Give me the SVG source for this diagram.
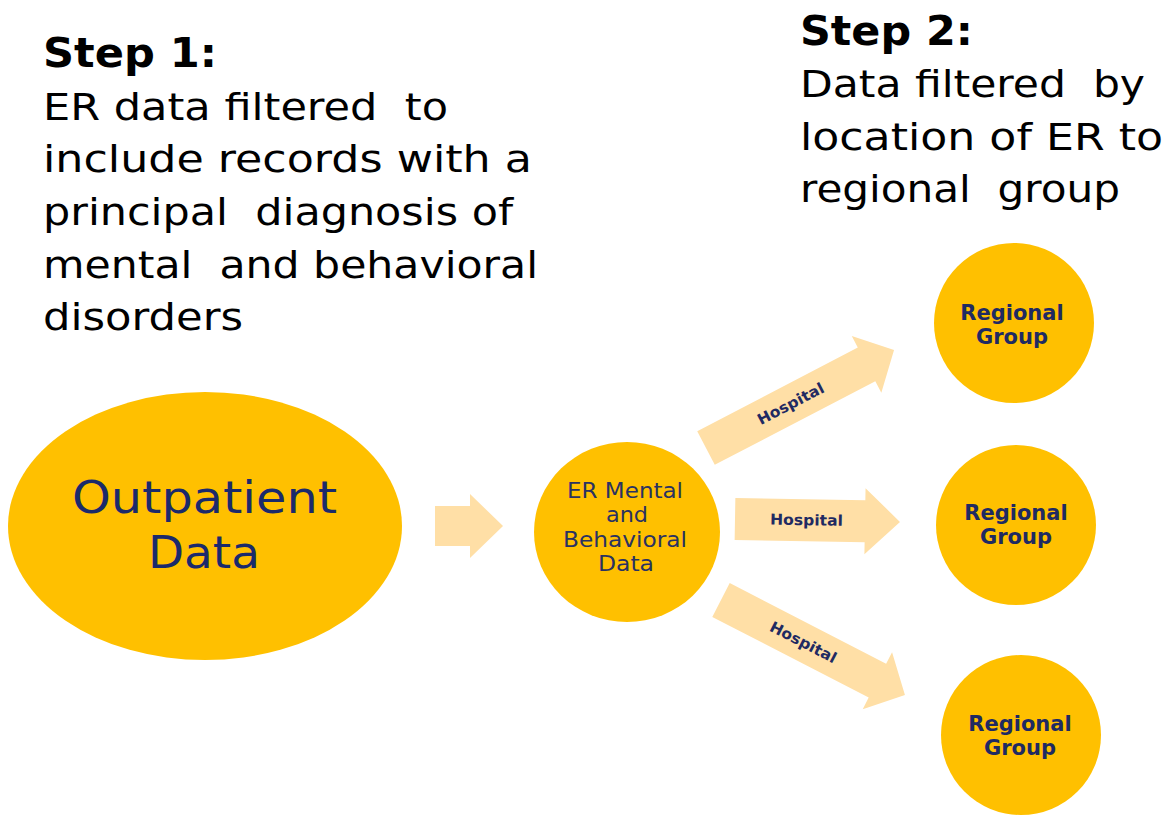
<svg xmlns="http://www.w3.org/2000/svg" width="1175" height="815" viewBox="0 0 1175 815">
<style>
text{white-space:pre}
.node{fill:#FFC000}
.arr{fill:#FFDFA6}
.step{font-family:"DejaVu Sans",Verdana,sans-serif;font-weight:bold;font-size:40px;fill:#000}
.desc{font-family:"DejaVu Sans",Verdana,sans-serif;font-size:38px;fill:#000}
.big{font-family:"DejaVu Sans",Verdana,sans-serif;font-size:45px;fill:#1B2A6B}
.mid{font-family:"DejaVu Sans",Verdana,sans-serif;font-size:21px;fill:#2A3262}
.reg{font-family:"DejaVu Sans",Verdana,sans-serif;font-weight:bold;font-size:21px;fill:#1F2A62;text-anchor:middle}
.hosp{font-family:"DejaVu Sans",Verdana,sans-serif;font-weight:bold;font-size:15px;fill:#1F2A62}
</style>
<rect width="1175" height="815" fill="#fff"/>
<g id="step1-text">
<text class="step" x="43" y="67" textLength="174" lengthAdjust="spacingAndGlyphs">Step 1:</text>
<text class="desc" x="43" y="120" textLength="405" lengthAdjust="spacingAndGlyphs">ER data filtered  to</text>
<text class="desc" x="43" y="172" textLength="489" lengthAdjust="spacingAndGlyphs">include records with a</text>
<text class="desc" x="43" y="225" textLength="470" lengthAdjust="spacingAndGlyphs">principal  diagnosis of</text>
<text class="desc" x="43" y="278" textLength="495" lengthAdjust="spacingAndGlyphs">mental  and behavioral</text>
<text class="desc" x="43" y="330" textLength="200" lengthAdjust="spacingAndGlyphs">disorders</text>
</g>
<g id="step2-text">
<text class="step" x="800" y="45" textLength="173" lengthAdjust="spacingAndGlyphs">Step 2:</text>
<text class="desc" x="800" y="97" textLength="345" lengthAdjust="spacingAndGlyphs">Data filtered  by</text>
<text class="desc" x="800" y="150" textLength="363" lengthAdjust="spacingAndGlyphs">location of ER to</text>
<text class="desc" x="800" y="202" textLength="320" lengthAdjust="spacingAndGlyphs">regional  group</text>
</g>
<g id="connectors">
<path class="arr" transform="translate(435,526)" d="M0,-20 L35,-20 L35,-32 L68,0 L35,32 L35,20 L0,20 Z"/>
<g transform="translate(735,519) rotate(1)">
<path class="arr" d="M0,-21 L130,-21 L130,-33 L165,0 L130,33 L130,21 L0,21 Z"/>
<text class="hosp" x="35" y="5" textLength="73" lengthAdjust="spacingAndGlyphs">Hospital</text>
</g>
<g transform="translate(706,448) rotate(-27.5)">
<path class="arr" d="M0,-19 L181,-19 L181,-32 L212,0 L181,32 L181,19 L0,19 Z"/>
<text class="hosp" x="59" y="5" textLength="73" lengthAdjust="spacingAndGlyphs">Hospital</text>
</g>
<g transform="translate(721,600) rotate(27.3)">
<path class="arr" d="M0,-19 L176,-19 L176,-32 L207,0 L176,32 L176,19 L0,19 Z"/>
<text class="hosp" x="56" y="5" textLength="73" lengthAdjust="spacingAndGlyphs">Hospital</text>
</g>
</g>
<g id="outpatient">
<ellipse class="node" cx="205" cy="526" rx="197" ry="134"/>
<text class="big" x="72" y="513" textLength="265" lengthAdjust="spacingAndGlyphs">Outpatient</text>
<text class="big" x="148" y="568" textLength="112" lengthAdjust="spacingAndGlyphs">Data</text>
</g>
<g id="er-mental">
<ellipse class="node" cx="627" cy="532" rx="93" ry="90"/>
<text class="mid" x="567" y="498" textLength="116" lengthAdjust="spacingAndGlyphs">ER Mental</text>
<text class="mid" x="606" y="522" textLength="42" lengthAdjust="spacingAndGlyphs">and</text>
<text class="mid" x="563" y="547" textLength="124" lengthAdjust="spacingAndGlyphs">Behavioral</text>
<text class="mid" x="598" y="571" textLength="56" lengthAdjust="spacingAndGlyphs">Data</text>
</g>
<g id="regional-1">
<circle class="node" cx="1014" cy="323" r="80"/>
<text class="reg" x="1012" y="320">Regional</text>
<text class="reg" x="1012" y="344">Group</text>
</g>
<g id="regional-2">
<circle class="node" cx="1016" cy="525" r="80"/>
<text class="reg" x="1016" y="520">Regional</text>
<text class="reg" x="1016" y="544">Group</text>
</g>
<g id="regional-3">
<circle class="node" cx="1021" cy="735" r="80"/>
<text class="reg" x="1020" y="731">Regional</text>
<text class="reg" x="1020" y="755">Group</text>
</g>
</svg>
